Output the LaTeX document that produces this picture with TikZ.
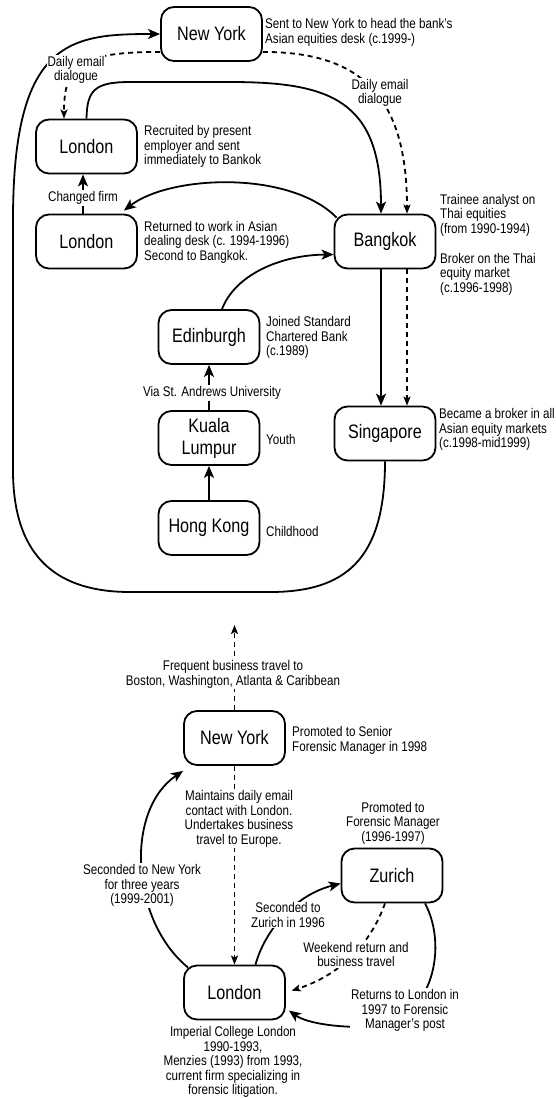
\documentclass[tikz,border=0pt]{standalone}
\usepackage{fontspec}
\setmainfont{Liberation Sans}[FakeStretch=0.83]
\usetikzlibrary{arrows.meta}
\newcommand{\placefont}{\fontsize{19.5}{22}\selectfont}
\newcommand{\notefont}{\fontsize{14}{14.5}\selectfont}
\begin{document}
\begin{tikzpicture}[x=1pt,y=-1pt,
  place/.style={draw, line width=1.8pt, rounded corners=13pt,
    minimum width=101pt, minimum height=54pt, inner sep=0pt,
    align=center, font=\placefont},
  note/.style={anchor=west, align=left, inner sep=0pt, font=\notefont},
  lbl/.style={align=center, inner sep=1pt, fill=white, font=\notefont},
  caption/.style={align=center, inner sep=0pt, font=\notefont},
  move/.style={line width=1.8pt, -{Stealth[length=12pt,width=10pt,inset=3pt]}},
  mail/.style={line width=1.8pt, dash pattern=on 5pt off 4pt,
    -{Stealth[length=9pt,width=7pt,inset=2pt]}}]
\useasboundingbox (0,0) rectangle (555,1098);

% ---------- career in banking ----------
\node[place] (ny1)  at (211.5,34)  {New York};
\node[place] (lon1) at (86.5,146.5) {London};
\node[place] (lon2) at (86.5,241.5) {London};
\node[place] (bkk)  at (385,241.5) {Bangkok};
\node[place] (edi)  at (209,337)   {Edinburgh};
\node[place] (kl)   at (209,438)   {Kuala\\Lumpur};
\node[place] (hk)   at (209,528)   {Hong Kong};
\node[place] (sgp)  at (385,433.5) {Singapore};

\node[note] (n1) at (265,32.5) {Sent to New York to head the bank’s\\Asian equities desk (c.1999-)};
\node[note] (n2) at (144,146.5) {Recruited by present\\employer and sent\\immediately to Bankok};
\node[note] (n3) at (144,242) {Returned to work in Asian\\dealing desk (c. 1994-1996)\\Second to Bangkok.};
\node[note] (n4) at (440,215) {Trainee analyst on\\Thai equities\\(from 1990-1994)};
\node[note] (n5) at (440,274) {Broker on the Thai\\equity market\\(c.1996-1998)};
\node[note] (n6) at (266,337.5) {Joined Standard\\Chartered Bank\\(c.1989)};
\node[note] (n7) at (266,439) {Youth};
\node[note] (n8) at (266,531) {Childhood};
\node[note] (n9) at (439,429.5) {Became a broker in all\\Asian equity markets\\(c.1998-mid1999)};

% long return loop from Singapore to New York
\draw[move] (sgp.south) .. controls (385,560) and (345,592) .. (270,592)
  -- (130,592) .. controls (60,592) and (13,560) .. (13,470)
  -- (13,220) .. controls (13,40) and (70,34) .. (ny1.west);

% email links from New York
\draw[mail] ([yshift=10pt]ny1.south west) .. controls (80,52) and (64,65) .. ([xshift=-22.5pt]lon1.north);
\node[lbl] (l1) at (76,70) {Daily email\\dialogue};
\draw[mail] ([yshift=10pt]ny1.south east) .. controls (360,52) and (407,95) .. ([xshift=22pt]bkk.north);
\node[lbl] (l2) at (380,93) {Daily email\\dialogue};

% moves between cities
\draw[move] (lon1.north) .. controls (87,90) and (95,82) .. (130,82) -- (230,82)
  .. controls (330,82) and (381,100) .. ([xshift=-4pt]bkk.north);
\draw[move] ([xshift=3pt,yshift=-4pt]bkk.north west) .. controls (290,170) and (170,175) .. ([xshift=-14pt,yshift=3pt]lon2.north east);
\draw[move] ([xshift=-3.5pt]lon2.north) -- ([xshift=-3.5pt]lon1.south);
\node[lbl] (l3) at (83,198) {Changed firm};
\draw[move] ([xshift=13pt]edi.north) .. controls (235,275) and (280,255) .. ([yshift=-13pt]bkk.west);
\draw[move] (kl.north) -- (edi.south);
\node[lbl] (l4) at (212,393) {Via St. Andrews University};
\draw[move] (hk.north) -- (kl.north |- kl.south);
\draw[move] ([xshift=-4pt]bkk.south) -- ([xshift=-4pt]sgp.north);
\draw[mail] ([xshift=22pt]bkk.south) -- ([xshift=22pt]sgp.north);

% ---------- career in forensic accounting ----------
\node[place] (ny2)  at (234.5,738)   {New York};
\node[place] (zur)  at (392,875.5)   {Zurich};
\node[place] (lon3) at (234.5,992.5) {London};
\coordinate (travel) at (234.5,625);

\node[note] (m1) at (292,740.5) {Promoted to Senior\\Forensic Manager in 1998};
\node[caption] (m2) at (393,823) {Promoted to\\Forensic Manager\\(1996-1997)};
\node[caption] (m3) at (233,1062) {Imperial College London\\1990-1993,\\Menzies (1993) from 1993,\\current firm specializing in\\forensic litigation.};

\draw[mail] (ny2.north) -- (travel);
\node[lbl] (k1) at (233,674.5) {Frequent business travel to\\Boston, Washington, Atlanta \& Caribbean};
\draw[mail] (ny2.south) -- (lon3.north);
\node[lbl] (k2) at (239,819) {Maintains daily email\\contact with London.\\Undertakes business\\travel to Europe.};

\draw[move] ([xshift=5pt,yshift=-3pt]lon3.north west) .. controls (130,920) and (125,810) .. ([yshift=-5pt]ny2.south west);
\node[lbl] (k3) at (142,885.5) {Seconded to New York\\for three years\\(1999-2001)};

\draw[move] ([xshift=21pt]lon3.north) .. controls (265,930) and (295,895) .. ([yshift=-8pt]zur.west);
\node[lbl] (k4) at (288,915) {Seconded to\\Zurich in 1996};

\draw[mail, shorten >=6pt] ([xshift=-7pt]zur.south) .. controls (370,945) and (340,975) .. (lon3.east);
\node[lbl] (k5) at (356,954.5) {Weekend return and\\business travel};

\draw[move] ([xshift=33pt]zur.south) .. controls (450,950) and (430,1030) .. (363,1027)
  .. controls (330,1027) and (305,1022) .. ([xshift=3pt,yshift=-18pt]lon3.east);
\node[lbl] (k6) at (405,1010.5) {Returns to London in\\1997 to Forensic\\Manager’s post};
\end{tikzpicture}
\end{document}
